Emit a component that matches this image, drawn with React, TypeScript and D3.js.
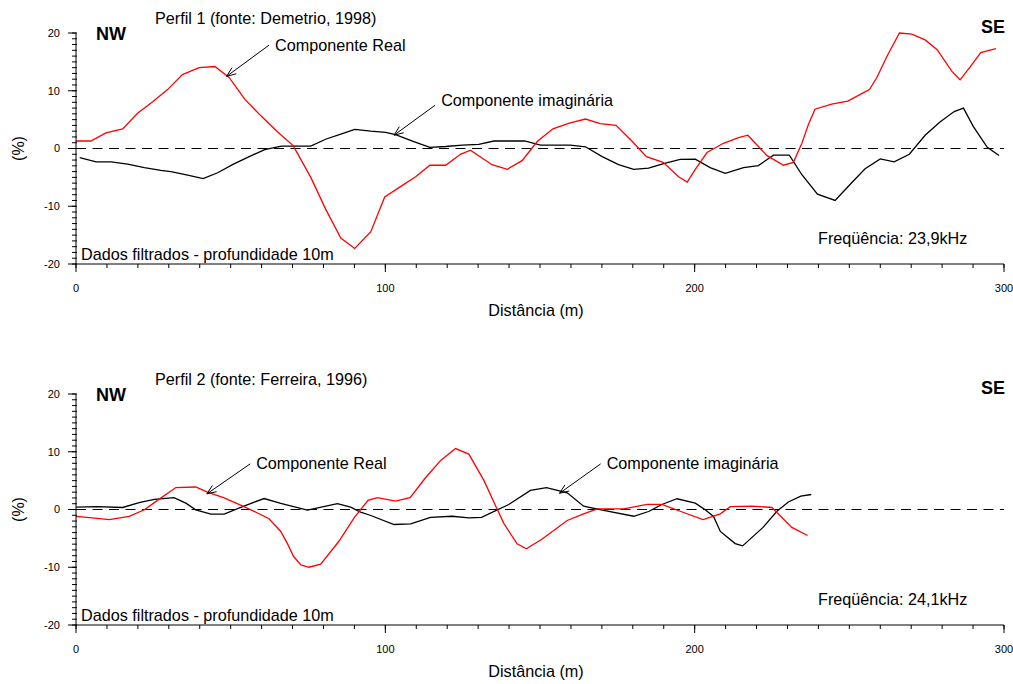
import * as d3 from "d3";

const W = 1013;
const H = 684;

// Perfil 1 (Demetrio, 1998)
const p1RealX = [0, 4.8, 9.7, 15.1, 19.9, 24.8, 29.6, 34.4, 39.8, 44.9, 49.5, 54.6, 59.7, 65.1, 70.2, 75.9, 80.7, 85.6, 90.1, 95.3, 99.8, 104.9, 109.8, 114.4, 119.5, 124.3, 127.5, 134.5, 139.4, 144.2, 149.1, 154.2, 159.5, 164.7, 169.5, 174.6, 179.7, 184.4, 189.8, 194.8, 197.6, 200.2, 204, 209.3, 214.2, 217.2, 223.3, 228.7, 231.9, 234.6, 236.8, 238.9, 244.3, 249.5, 254, 256.5, 258.9, 262.3, 266.2, 270.2, 274.5, 278.4, 283.1, 285.8, 289, 292.5, 297.4];
const p1RealY = [1.3, 1.3, 2.7, 3.4, 6.1, 8.1, 10.2, 12.8, 14.0, 14.2, 12.3, 8.5, 5.7, 2.9, 0.5, -5.0, -10.5, -15.5, -17.3, -14.4, -8.4, -6.6, -4.9, -2.9, -2.9, -1.0, -0.3, -2.8, -3.6, -2.1, 1.2, 3.4, 4.4, 5.1, 4.3, 4.0, 1.3, -1.4, -2.4, -4.9, -5.8, -3.6, -0.7, 0.9, 1.9, 2.3, -1.2, -2.9, -2.4, 0.8, 4.2, 6.8, 7.7, 8.2, 9.5, 10.2, 12.3, 16.1, 20.0, 19.8, 18.8, 17.1, 13.4, 11.9, 14.1, 16.6, 17.3];
const p1ImagX = [1.2, 6.5, 11.3, 16.7, 22.1, 27.4, 30.7, 36.1, 41.1, 45.8, 50.9, 56, 61, 66.4, 70.5, 75.9, 80.7, 85.6, 90.1, 95.3, 100.1, 103.3, 109.2, 114.4, 119.5, 124.9, 130.2, 135.1, 140, 145, 150.2, 155, 159.8, 164.7, 170.1, 175.4, 180.3, 185.1, 190, 195.3, 200.2, 205, 209.9, 215.8, 220.6, 225.5, 230.6, 234.6, 239.7, 245.4, 250.3, 255.1, 260, 264.5, 269.4, 274.5, 279.3, 283.9, 286.9, 290.1, 294.6, 298.4];
const p1ImagY = [-1.6, -2.3, -2.3, -2.7, -3.3, -3.8, -4.0, -4.6, -5.2, -4.2, -2.7, -1.4, -0.2, 0.4, 0.4, 0.4, 1.6, 2.5, 3.3, 3.0, 2.8, 2.4, 1.2, 0.2, 0.35, 0.6, 0.7, 1.3, 1.3, 1.3, 0.6, 0.6, 0.6, 0.3, -1.4, -2.8, -3.6, -3.4, -2.6, -1.9, -1.85, -3.3, -4.3, -3.3, -2.95, -1.15, -1.15, -4.5, -7.9, -9.0, -6.2, -3.5, -1.8, -2.3, -1.0, 2.3, 4.6, 6.4, 7.0, 3.8, 0.2, -1.2];

// Perfil 2 (Ferreira, 1996)
const p2RealX = [0, 5.2, 10.8, 17.2, 22.1, 26.9, 32.3, 38.7, 42.5, 47.9, 54.3, 58.7, 62.4, 66.2, 68.4, 70.3, 72.7, 75.3, 79.1, 85, 89.9, 94.4, 97.4, 103.3, 108, 113, 117.9, 122.7, 127, 131.9, 135.6, 138.3, 142.6, 145.6, 150.7, 158.8, 164.1, 168.5, 177.1, 184.6, 189.4, 195.3, 202.7, 208.3, 211.5, 218.5, 225, 231.4, 236.5];
const p2RealY = [-1.2, -1.45, -1.74, -1.2, -0.05, 1.8, 3.8, 3.9, 3.0, 2.0, 0.5, -0.6, -1.6, -3.8, -5.95, -8.1, -9.6, -10.0, -9.45, -5.5, -1.45, 1.6, 2.05, 1.45, 2.05, 5.5, 8.5, 10.55, 9.6, 5.0, 0.7, -2.4, -5.95, -6.8, -5.1, -1.9, -0.75, 0.1, 0.1, 0.9, 0.9, -0.3, -1.74, -0.75, 0.5, 0.6, 0.35, -3.1, -4.5];
const p2ImagX = [0, 7, 15.1, 20.4, 25.3, 31.7, 35.5, 38.7, 43.6, 47.9, 54.3, 60.8, 66.2, 74.8, 84.5, 88.8, 92, 95.3, 102.8, 108.2, 114.6, 121.6, 127, 131.1, 139.9, 146.9, 152.1, 158.8, 164.1, 170.6, 180.3, 185.1, 189.4, 194.3, 200.2, 203.4, 206.1, 208.3, 213.1, 215.5, 222.1, 226.6, 230.3, 234.3, 237.7];
const p2ImagY = [0.4, 0.5, 0.35, 1.2, 1.75, 2.05, 1.1, -0.05, -0.8, -0.8, 0.6, 1.9, 1.04, -0.1, 1.0, 0.4, -0.45, -1.04, -2.6, -2.5, -1.35, -1.17, -1.45, -1.35, 0.87, 3.3, 3.8, 2.9, 0.57, -0.17, -1.17, -0.35, 0.87, 1.86, 1.1, -0.05, -1.2, -3.8, -5.9, -6.3, -3.1, -0.3, 1.3, 2.3, 2.6];

const xMajor = [0, 100, 200, 300];
const xMinor = d3.range(0, 301, 10);
const yMajor = [-20, -10, 0, 10, 20];
const yMinor = d3.range(-20, 21, 1);

const font = "'Liberation Sans', Arial, sans-serif";

type Arrow = { label: string; tail: [number, number]; tip: [number, number]; dy: number };

type PanelProps = {
  top: number;
  bottom: number;
  title: string;
  freq: string;
  realX: number[];
  realY: number[];
  imagX: number[];
  imagY: number[];
  arrows: Arrow[];
};

const x = d3.scaleLinear().domain([0, 300]).range([76, 1004]);

function Panel({ top, bottom, title, freq, realX, realY, imagX, imagY, arrows }: PanelProps) {
  const y = d3.scaleLinear().domain([-20, 20]).range([bottom, top]);
  const line = d3
    .line<[number, number]>()
    .x((d) => x(d[0]))
    .y((d) => y(d[1]));
  const real = realX.map((v, i) => [v, realY[i]] as [number, number]);
  const imag = imagX.map((v, i) => [v, imagY[i]] as [number, number]);
  const x0 = x(0);

  return (
    <g fontFamily={font}>
      {/* zero line */}
      <line x1={x(0)} x2={x(300)} y1={y(0)} y2={y(0)} stroke="#000" strokeWidth={1.1} strokeDasharray="10,6.5" />

      <path d={line(imag) || ""} fill="none" stroke="#000" strokeWidth={1.3} />
      <path d={line(real) || ""} fill="none" stroke="#ff0000" strokeWidth={1.3} />

      {/* y axis */}
      <line x1={x0} x2={x0} y1={y(20)} y2={y(-20)} stroke="#000" strokeWidth={1} />
      {yMinor.map((t) => (
        <line key={"ym" + t} x1={x0 - 4} x2={x0 + 1} y1={y(t)} y2={y(t)} stroke="#000" strokeWidth={1} />
      ))}
      {yMajor.map((t) => (
        <g key={"yM" + t}>
          <line x1={x0 - 8} x2={x0} y1={y(t)} y2={y(t)} stroke="#000" strokeWidth={1} />
          <text x={x0 - 16} y={y(t)} dy="0.35em" textAnchor="end" fontSize={11}>
            {t}
          </text>
        </g>
      ))}

      {/* x axis */}
      <line x1={x(0)} x2={x(300)} y1={y(-20)} y2={y(-20)} stroke="#000" strokeWidth={1} />
      {xMinor.map((t) => (
        <line key={"xm" + t} x1={x(t)} x2={x(t)} y1={y(-20)} y2={y(-20) + 4} stroke="#000" strokeWidth={1} />
      ))}
      {xMajor.map((t) => (
        <g key={"xM" + t}>
          <line x1={x(t)} x2={x(t)} y1={y(-20)} y2={y(-20) + 8} stroke="#000" strokeWidth={1} />
          <text x={x(t)} y={y(-20) + 28} textAnchor="middle" fontSize={11}>
            {t}
          </text>
        </g>
      ))}

      <text x={536} y={y(-20) + 52} textAnchor="middle" fontSize={16.2}>
        Distância (m)
      </text>
      <text transform={`translate(24,${y(0)}) rotate(-90)`} textAnchor="middle" fontSize={16}>
        (%)
      </text>

      <text x={155} y={top - 9} fontSize={16.2}>
        {title}
      </text>
      <text x={96} y={top + 7} fontSize={18} fontWeight="bold">
        NW
      </text>
      <text x={981} y={top} fontSize={18} fontWeight="bold">
        SE
      </text>
      <text x={81} y={bottom - 4} fontSize={16.2}>
        Dados filtrados - profundidade 10m
      </text>
      <text x={818} y={bottom - 20} fontSize={16.2}>
        {freq}
      </text>

      {arrows.map((a) => {
        const tx = x(a.tail[0]);
        const ty = y(a.tail[1]);
        const hx = x(a.tip[0]);
        const hy = y(a.tip[1]);
        const ang = Math.atan2(hy - ty, hx - tx);
        const len = 10;
        const spread = 0.38;
        const p1 = [hx - len * Math.cos(ang - spread), hy - len * Math.sin(ang - spread)];
        const p2 = [hx - len * Math.cos(ang + spread), hy - len * Math.sin(ang + spread)];
        return (
          <g key={a.label}>
            <line x1={tx} y1={ty} x2={hx} y2={hy} stroke="#000" strokeWidth={1} />
            <polyline points={`${p1[0]},${p1[1]} ${hx},${hy} ${p2[0]},${p2[1]}`} fill="none" stroke="#000" strokeWidth={1} />
            <text x={tx + 6} y={ty + a.dy} fontSize={16.2}>
              {a.label}
            </text>
          </g>
        );
      })}
    </g>
  );
}

export default function App() {
  return (
    <svg width={W} height={H} style={{ position: "absolute", left: 0, top: 0, background: "#fff" }}>
      <rect width={W} height={H} fill="#fff" />
      <Panel
        top={33}
        bottom={264}
        title="Perfil 1 (fonte: Demetrio, 1998)"
        freq="Freqüência: 23,9kHz"
        realX={p1RealX}
        realY={p1RealY}
        imagX={p1ImagX}
        imagY={p1ImagY}
        arrows={[
          { label: "Componente Real", tail: [62.4, 17.9], tip: [48.7, 12.5], dy: 6 },
          { label: "Componente imaginária", tail: [116.1, 7.5], tip: [102.8, 2.3], dy: 1 },
        ]}
      />
      <Panel
        top={394}
        bottom={625}
        title="Perfil 2 (fonte: Ferreira, 1996)"
        freq="Freqüência: 24,1kHz"
        realX={p2RealX}
        realY={p2RealY}
        imagX={p2ImagX}
        imagY={p2ImagY}
        arrows={[
          { label: "Componente Real", tail: [56.3, 7.9], tip: [42.3, 2.7], dy: 5 },
          { label: "Componente imaginária", tail: [169.6, 7.9], tip: [156.3, 2.8], dy: 5 },
        ]}
      />
    </svg>
  );
}
